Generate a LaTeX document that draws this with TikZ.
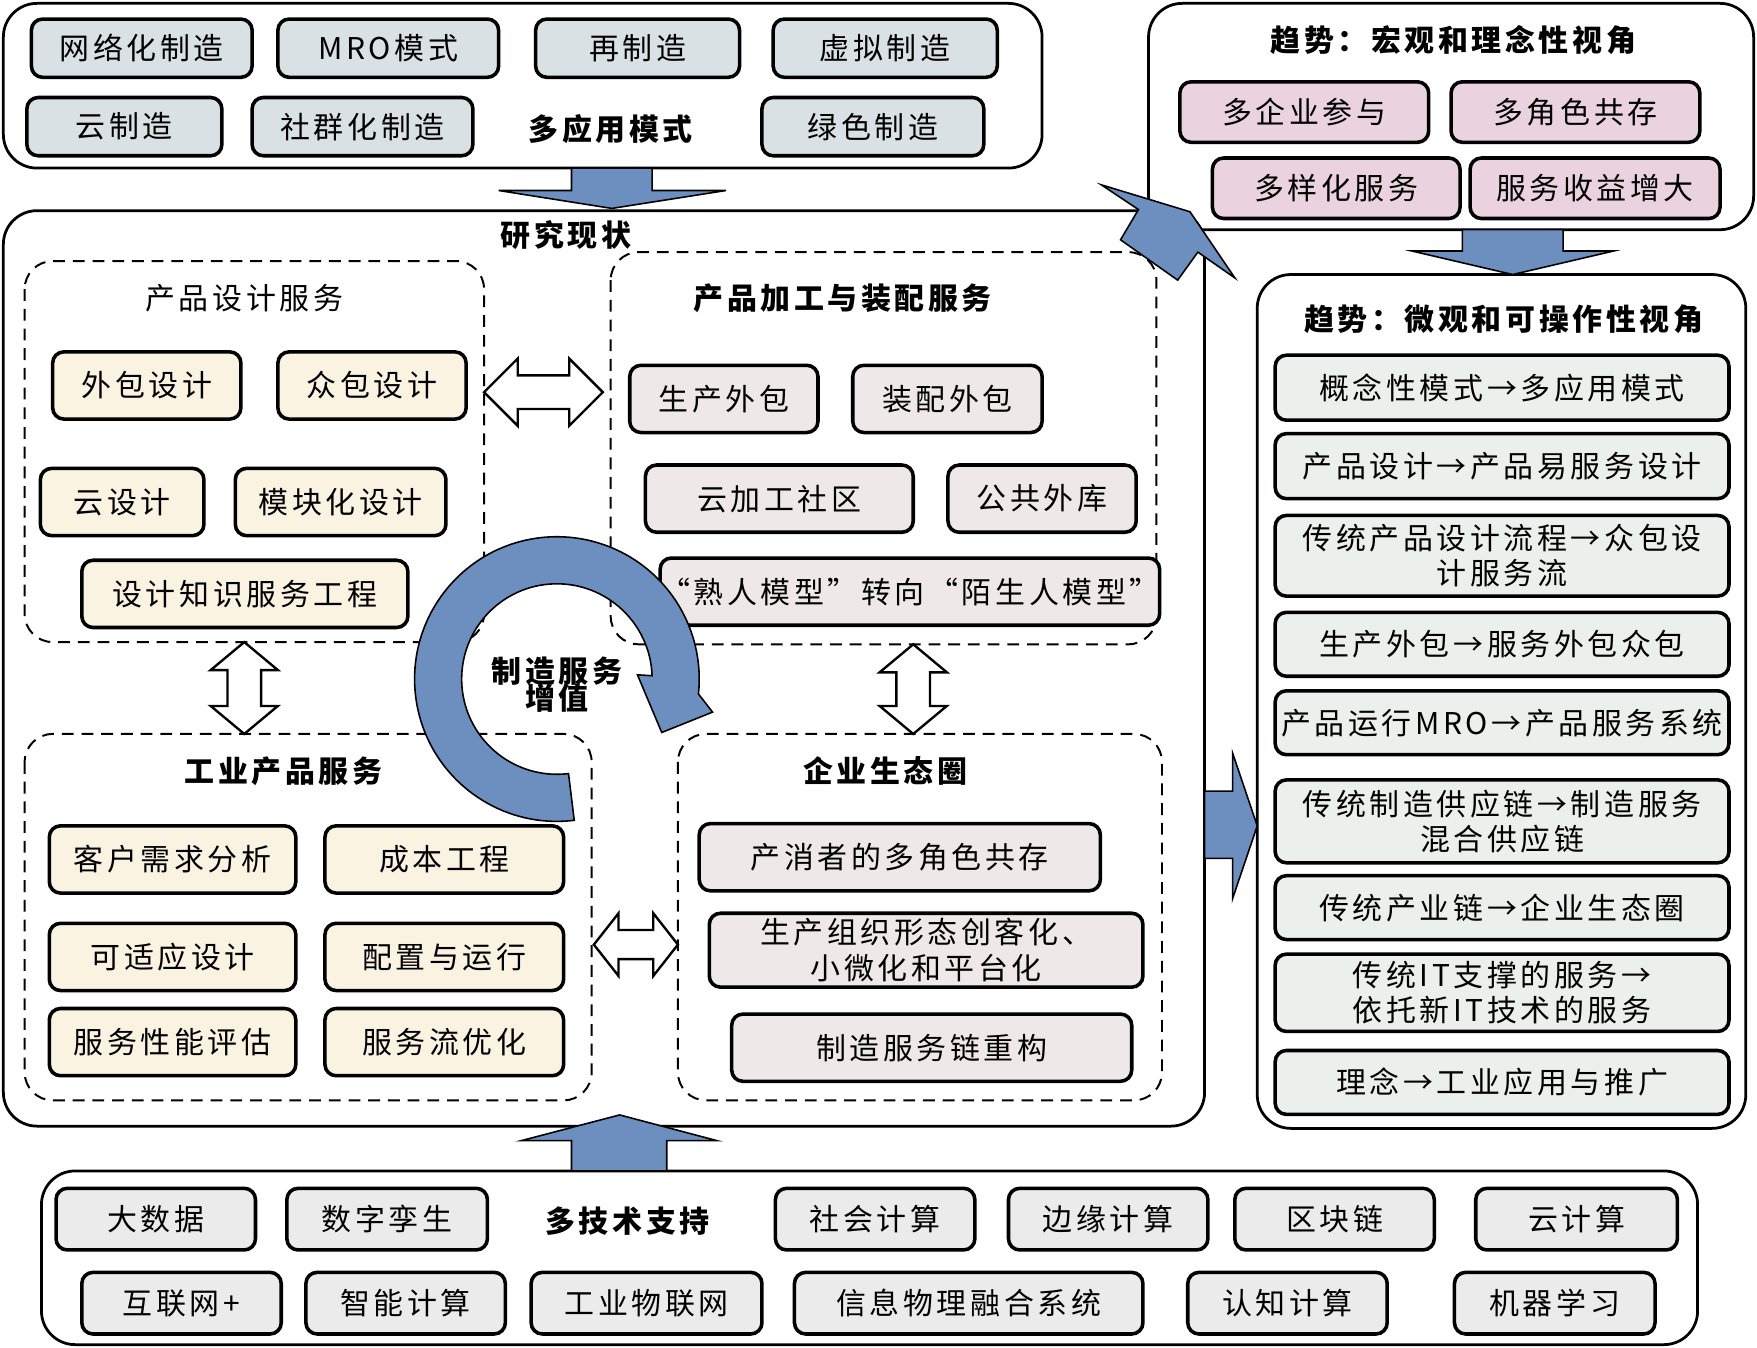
\documentclass[tikz,border=0pt]{standalone}
\usepackage{fontspec}
\usetikzlibrary{calc}
\setmainfont[LetterSpace=12]{Noto Sans CJK SC}
\begin{document}
\begin{tikzpicture}[x=0.01cm,y=-0.01cm,font=\fontsize{7.6pt}{9pt}\selectfont,
 box/.style={draw,line width=0.9pt,rounded corners=0.1cm,inner sep=0pt,align=center},
 outer/.style={draw,line width=0.7pt,rounded corners=0.3cm},
 dsh/.style={draw,line width=0.5pt,dash pattern=on 3pt off 2pt,rounded corners=0.25cm},
 ttl/.style={font=\fontsize{7.6pt}{9pt}\selectfont\bfseries},
 barr/.style={fill=arrblue,draw=black,line width=0.4pt},
 wa/.style={fill=white,draw=black,line width=0.6pt}]
\definecolor{cA}{HTML}{D9E1E4}
\definecolor{cP}{HTML}{EAD3DF}
\definecolor{cC}{HTML}{FBF3E2}
\definecolor{cG}{HTML}{EEE8E8}
\definecolor{cR}{HTML}{EBF0EC}
\definecolor{cB}{HTML}{EBEBEB}
\definecolor{arrblue}{HTML}{6D8FC0}
\newcommand\bx[7]{\node[box,fill=#5,minimum width={(#2-#1)*0.01cm},minimum height={#4*0.01cm}] (#7) at ({(#1+#2)/2},#3) {#6};}
\useasboundingbox (0,0) rectangle (1568,1203);
% outer frames
\draw[outer] (3,3) rectangle (930,150);
\draw[outer] (1025,3) rectangle (1565,205);
\draw[outer] (3,188) rectangle (1075,1005);
\draw[outer] (1122,245) rectangle (1558,1007);
\draw[outer] (37,1045) rectangle (1515,1200);
% top
\bx{28}{225}{43}{52}{cA}{网络化制造}{t1}
\bx{248}{445}{43}{52}{cA}{MRO模式}{t2}
\bx{478}{660}{43}{52}{cA}{再制造}{t3}
\bx{690}{890}{43}{52}{cA}{虚拟制造}{t4}
\bx{24}{198}{113}{52}{cA}{云制造}{t5}
\bx{225}{422}{113}{52}{cA}{社群化制造}{t6}
\node[ttl] (tm) at (545,115) {多应用模式};
\bx{680}{878}{113}{52}{cA}{绿色制造}{t7}
% top right
\node[ttl] (tr) at (1297,36) {趋势：宏观和理念性视角};
\bx{1053}{1275}{100}{54}{cP}{多企业参与}{p1}
\bx{1295}{1517}{100}{54}{cP}{多角色共存}{p2}
\bx{1082}{1303}{168}{54}{cP}{多样化服务}{p3}
\bx{1312}{1535}{168}{54}{cP}{服务收益增大}{p4}
% main
\node[ttl] (rs) at (505,210) {研究现状};
\draw[dsh] (22,233) rectangle (432,573);
\draw[dsh] (545,225) rectangle (1032,575);
\draw[dsh] (22,655) rectangle (528,982);
\draw[dsh] (605,655) rectangle (1037,982);
\node (d1) at (218,266) {产品设计服务};
\bx{47}{215}{344}{60}{cC}{外包设计}{a1}
\bx{248}{416}{344}{60}{cC}{众包设计}{a2}
\bx{36}{182}{448}{60}{cC}{云设计}{a3}
\bx{210}{398}{448}{60}{cC}{模块化设计}{a4}
\bx{73}{364}{530}{60}{cC}{设计知识服务工程}{a5}
\node[ttl] (d2) at (752,266) {产品加工与装配服务};
\bx{562}{730}{356}{60}{cG}{生产外包}{b1}
\bx{761}{930}{356}{60}{cG}{装配外包}{b2}
\bx{576}{815}{445}{60}{cG}{云加工社区}{b3}
\bx{846}{1014}{445}{60}{cG}{公共外库}{b4}
\bx{614}{1010}{528}{60}{cG}{“熟人模型”转向“陌生人模型”}{b5}
\node[ttl] (d3) at (253,688) {工业产品服务};
\bx{44}{264}{767}{60}{cC}{客户需求分析}{c1}
\bx{290}{503}{767}{60}{cC}{成本工程}{c2}
\bx{44}{264}{854}{60}{cC}{可适应设计}{c3}
\bx{290}{503}{854}{60}{cC}{配置与运行}{c4}
\bx{44}{264}{930}{60}{cC}{服务性能评估}{c5}
\bx{290}{503}{930}{60}{cC}{服务流优化}{c6}
\node[ttl] (d4) at (790,688) {企业生态圈};
\bx{624}{982}{765}{60}{cG}{产消者的多角色共存}{e1}
\bx{633}{1020}{848}{66}{cG}{生产组织形态创客化、\\小微化和平台化}{e2}
\bx{653}{1010}{935}{60}{cG}{制造服务链重构}{e3}
% white double arrows
\draw[wa] (432,350)--(462,320)--(462,335)--(508,335)--(508,320)--(538,350)--(508,380)--(508,365)--(462,365)--(462,380)--cycle;
\draw[wa] (530,843)--(552,815)--(552,830)--(583,830)--(583,815)--(605,843)--(583,871)--(583,856)--(552,856)--(552,871)--cycle;
\draw[wa] (218,573)--(248,598)--(233,598)--(233,630)--(248,630)--(218,655)--(188,630)--(203,630)--(203,598)--(188,598)--cycle;
\draw[wa] (815,575)--(845,600)--(830,600)--(830,630)--(845,630)--(815,655)--(785,630)--(800,630)--(800,600)--(785,600)--cycle;
% circular arrow
\coordinate (cc) at (497,606);
\draw[barr] ($(cc)+(83:127)$) arc[start angle=83,end angle=366,radius=127] -- ($(cc)+(372:142)$) -- ($(cc)+(387:105)$) -- ($(cc)+(357:72)$) -- ($(cc)+(358:85)$) arc[start angle=358,end angle=83,radius=85] -- cycle;
\node[ttl,align=center] (cz) at (497,611) {制造服务\\[-2pt]增值};
% right panel
\node[ttl] (rt) at (1342,285) {趋势：微观和可操作性视角};
\bx{1138}{1543}{346}{58}{cR}{概念性模式→多应用模式}{r1}
\bx{1138}{1543}{416}{58}{cR}{产品设计→产品易服务设计}{r2}
\bx{1138}{1543}{496}{72}{cR}{传统产品设计流程→众包设\\计服务流}{r3}
\bx{1138}{1543}{575}{57}{cR}{生产外包→服务外包众包}{r4}
\bx{1138}{1543}{645}{57}{cR}{产品运行MRO→产品服务系统}{r5}
\bx{1138}{1543}{733}{74}{cR}{传统制造供应链→制造服务\\混合供应链}{r6}
\bx{1138}{1543}{810}{57}{cR}{传统产业链→企业生态圈}{r7}
\bx{1138}{1543}{886}{69}{cR}{传统IT支撑的服务→\\依托新IT技术的服务}{r8}
\bx{1138}{1543}{966}{57}{cR}{理念→工业应用与推广}{r9}
% bottom
\bx{50}{228}{1088}{55}{cB}{大数据}{g1}
\bx{256}{435}{1088}{55}{cB}{数字孪生}{g2}
\node[ttl] (gm) at (560,1090) {多技术支持};
\bx{692}{870}{1088}{55}{cB}{社会计算}{g3}
\bx{900}{1078}{1088}{55}{cB}{边缘计算}{g4}
\bx{1102}{1280}{1088}{55}{cB}{区块链}{g5}
\bx{1317}{1497}{1088}{55}{cB}{云计算}{g6}
\bx{73}{251}{1163}{55}{cB}{互联网+}{h1}
\bx{273}{451}{1163}{55}{cB}{智能计算}{h2}
\bx{474}{680}{1163}{55}{cB}{工业物联网}{h3}
\bx{709}{1020}{1163}{55}{cB}{信息物理融合系统}{h4}
\bx{1060}{1238}{1163}{55}{cB}{认知计算}{h5}
\bx{1298}{1477}{1163}{55}{cB}{机器学习}{h6}
% blue block arrows
\draw[barr] (510,150)--(582,150)--(582,170)--(648,170)--(546,186)--(445,170)--(510,170)--cycle;
\draw[barr] (1305,205)--(1395,205)--(1395,224)--(1440,224)--(1350,245)--(1260,224)--(1305,224)--cycle;
\draw[barr] (510,1045)--(595,1045)--(595,1018)--(640,1018)--(553,995)--(465,1018)--(510,1018)--cycle;
\draw[barr] (1075,706)--(1100,706)--(1100,672)--(1122,737)--(1100,802)--(1100,766)--(1075,766)--cycle;
\draw[barr] (983,165)--(1062,189)--(1102,248)--(1069,225)--(1051,250)--(1000,214)--(1016,187)--cycle;
\end{tikzpicture}
\end{document}
